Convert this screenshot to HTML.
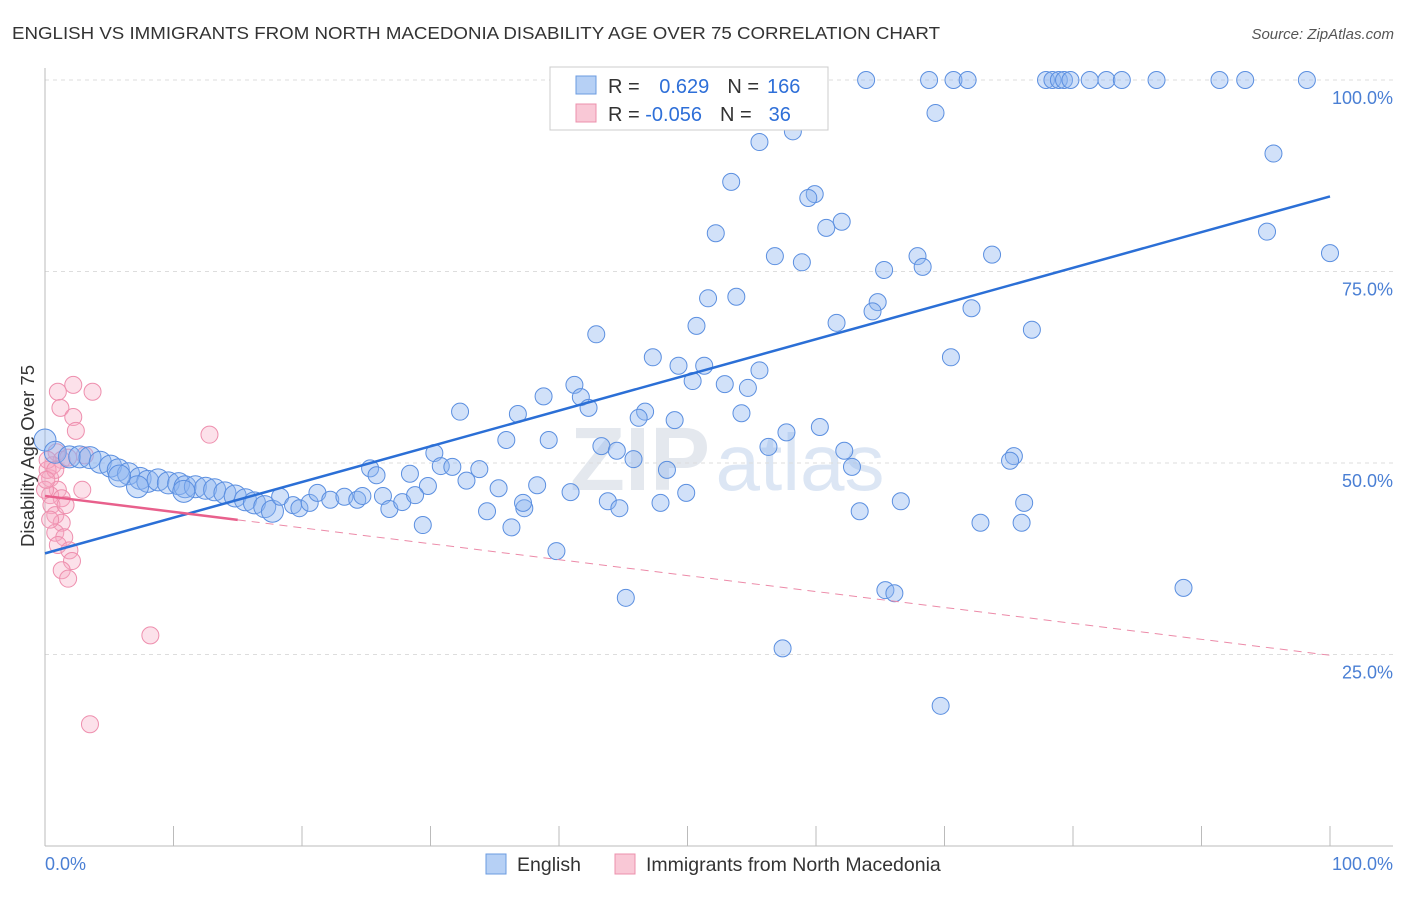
<!DOCTYPE html>
<html><head><meta charset="utf-8"><style>
body{margin:0;background:#fff;font-family:"Liberation Sans",sans-serif}
svg text{font-family:"Liberation Sans",sans-serif}
</style></head><body>
<svg id="chart" width="1406" height="892" xmlns="http://www.w3.org/2000/svg">
<text x="12" y="39" font-size="17.5" fill="#333" textLength="928" lengthAdjust="spacingAndGlyphs">ENGLISH VS IMMIGRANTS FROM NORTH MACEDONIA DISABILITY AGE OVER 75 CORRELATION CHART</text>
<text x="1394" y="39" font-size="15" fill="#555" text-anchor="end" font-style="italic">Source: ZipAtlas.com</text>
<text x="640" y="490" font-size="90" fill="#e4e8ee" font-weight="bold" text-anchor="middle">ZIP</text>
<text x="800" y="490" font-size="80" fill="#dce6f4" text-anchor="middle">atlas</text>
<g id="grid"></g><g id="axes"></g><g id="pink"></g><g id="blue"></g><g id="trends"></g>
<text transform="translate(34,456) rotate(-90)" font-size="18.5" fill="#333" text-anchor="middle">Disability Age Over 75</text>
<text x="45" y="870" font-size="18" fill="#4a7fd4">0.0%</text>
<text x="1393" y="870" font-size="18" fill="#4a7fd4" text-anchor="end">100.0%</text>
<g>
<rect x="550" y="67" width="278" height="63" fill="#fff" stroke="#ccc"/>
<rect x="576" y="76" width="20" height="18" fill="#b6d0f5" stroke="#6b9be0"/>
<rect x="576" y="104" width="20" height="18" fill="#f9c8d6" stroke="#ec90ac"/>
<text x="608" y="93" font-size="20" fill="#333">R = <tspan fill="#2e6fd8" dx="14">0.629</tspan><tspan dx="18" fill="#333">N =</tspan><tspan dx="8" fill="#2e6fd8">166</tspan></text>
<text x="608" y="121" font-size="20" fill="#333">R = <tspan fill="#2e6fd8">-0.056</tspan><tspan dx="18" fill="#333">N =</tspan><tspan dx="17" fill="#2e6fd8">36</tspan></text>
</g>
<g>
<rect x="486" y="854" width="20" height="20" fill="#b6d0f5" stroke="#6b9be0"/>
<text x="517" y="871" font-size="19.5" fill="#333">English</text>
<rect x="615" y="854" width="20" height="20" fill="#f9c8d6" stroke="#ec90ac"/>
<text x="646" y="871" font-size="19.5" fill="#333">Immigrants from North Macedonia</text>
</g>
</svg>
<script>
const blueX=[63.9,68.8,70.7,71.8,77.9,78.4,78.9,79.3,79.8,81.3,82.6,83.8,86.5,91.4,93.4,98.2,
69.3,55.6,58.2,95.6,53.4,59.9,59.4,62.0,60.8,52.2,95.1,56.8,58.9,67.9,68.3,65.3,73.7,100,51.6,53.8,64.8,64.4,72.1,50.7,61.6,42.9,76.8,47.3,49.3,51.3,70.5,55.6,50.4,52.9,54.7,41.2,38.8,41.7,42.3,32.3,36.8,46.7,46.2,49.0,54.2,57.7,60.3,35.9,39.2,43.3,44.5,56.3,62.2,30.3,45.8,75.4,75.1,62.8,48.4,30.8,31.7,33.8,25.3,25.8,28.4,32.8,29.8,35.3,38.3,40.9,49.9,43.8,44.7,47.9,66.6,76.2,34.4,37.3,37.2,36.3,29.4,39.8,63.4,72.8,76.0,45.2,65.4,66.1,88.6,57.4,69.7,
0,0.8,1.9,2.7,3.5,4.3,5.1,5.7,6.5,7.4,8.0,8.8,9.6,10.4,10.9,11.7,12.5,13.2,14.0,14.8,15.6,16.3,17.1,17.7,7.2,10.8,5.8,
18.3,19.3,19.8,20.6,21.2,22.2,23.3,24.3,24.7,26.3,26.8,27.8,28.8];
const blueY=[100,100,100,100,100,100,100,100,100,100,100,100,100,100,100,100,
95.7,91.9,93.3,90.4,86.7,85.1,84.6,81.5,80.7,80.0,80.2,77.0,76.2,77.0,75.6,75.2,77.2,77.4,71.5,71.7,71.0,69.8,70.2,67.9,68.3,66.8,67.4,63.8,62.7,62.7,63.8,62.1,60.7,60.3,59.8,60.2,58.7,58.6,57.2,56.7,56.4,56.7,55.9,55.6,56.5,54.0,54.7,53.0,53.0,52.2,51.6,52.1,51.6,51.3,50.5,50.9,50.3,49.5,49.1,49.6,49.5,49.2,49.3,48.4,48.6,47.7,47.0,46.7,47.1,46.2,46.1,45.0,44.1,44.8,45.0,44.8,43.7,44.1,44.8,41.6,41.9,38.5,43.7,42.2,42.2,32.4,33.4,33.0,33.7,25.8,18.3,
53.0,51.4,50.8,50.8,50.7,50.1,49.6,49.1,48.6,48.0,47.6,47.8,47.4,47.3,46.9,46.9,46.7,46.5,46.1,45.7,45.2,44.8,44.3,43.7,46.9,46.3,48.3,
45.6,44.5,44.1,44.8,46.1,45.2,45.6,45.2,45.7,45.7,44.0,44.9,45.8];
const pinkX=[1.0,2.2,3.7,1.2,2.2,2.4,12.8,0.9,1.3,1.8,0.6,0.4,1.0,2.9,0.4,1.3,0.5,0.8,1.3,0.8,1.5,1.0,1.9,2.1,1.3,1.8,8.2,3.5,0.2,0,0.2,3.1,0.8,1.6,0.4,0.1];
const pinkY=[59.3,60.2,59.3,57.2,56.0,54.2,53.7,51.4,50.4,50.7,49.7,48.0,46.5,46.5,45.8,45.4,44.5,43.2,42.2,40.9,40.3,39.3,38.6,37.2,36.0,34.9,27.5,15.9,49.1,46.5,50.4,51.0,49.1,44.5,42.6,47.8];
const blueTrend=[38.2,84.8];
const pinkTrend=[45.7,24.9];
const pinkSolidEnd=15;
const yTicks=[25,50,75,100];
const xTicks=[0,10,20,30,40,50,60,70,80,90,100];
const NS="http://www.w3.org/2000/svg";
const X=v=>45+v*12.85, Y=v=>846-v*7.66;
function mk(parent,tag,attrs){const e=document.createElementNS(NS,tag);for(const k in attrs)e.setAttribute(k,attrs[k]);document.getElementById(parent).appendChild(e);return e;}
yTicks.forEach(t=>{
 const l=mk('grid','line',{x1:45,x2:1393,y1:Y(t),y2:Y(t),stroke:'#ddd','stroke-dasharray':'4,4'});
 
 
 const tx=mk('grid','text',{x:1393,y:Y(t)+24,'font-size':18,fill:'#4a7fd4','text-anchor':'end'});
 tx.textContent=t.toFixed(1)+'%';
 
 
});
const ax=mk('axes','line',{x1:45,x2:45,y1:68,y2:846,stroke:'#bbb'});


const bx=mk('axes','line',{x1:45,x2:1393,y1:846,y2:846,stroke:'#bbb'});


xTicks.forEach(t=>{
 const l=mk('axes','line',{x1:X(t),x2:X(t),y1:826,y2:846,stroke:'#bbb'});
 
 
});
pinkX.forEach((v,i)=>{
 const c=mk('pink','circle',{cx:X(v),cy:Y(pinkY[i]),r:8.5,fill:'rgba(246,170,195,0.35)',stroke:'#ee8fae','stroke-width':1});
 
 
});
blueX.forEach((v,i)=>{
 const big=i>=107&&i<134;
 const c=mk('blue','circle',{cx:X(v),cy:Y(blueY[i]),r:big?11:8.5,fill:'rgba(140,180,240,0.4)',stroke:'#5b8fe0','stroke-width':1});
 
 
});
const bt=mk('trends','line',{x1:X(0),y1:Y(blueTrend[0]),x2:X(100),y2:Y(blueTrend[1]),stroke:'#2b6fd6','stroke-width':2.5});


const pe=pinkTrend[0]+(pinkTrend[1]-pinkTrend[0])*pinkSolidEnd/100;
const pt=mk('trends','line',{x1:X(0),y1:Y(pinkTrend[0]),x2:X(pinkSolidEnd),y2:Y(pe),stroke:'#e8608c','stroke-width':2.5});


const pd=mk('trends','line',{x1:X(pinkSolidEnd),y1:Y(pe),x2:X(100),y2:Y(pinkTrend[1]),stroke:'#ec8aa8','stroke-width':1,'stroke-dasharray':'8,6'});


</script>
</body></html>
